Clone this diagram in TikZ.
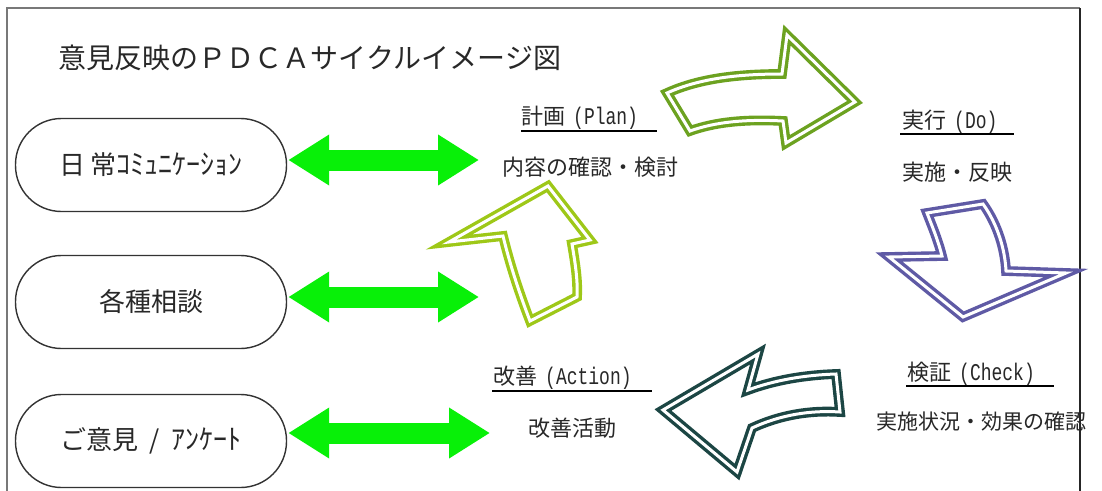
\documentclass[tikz,border=0pt]{standalone}
\usepackage{fontspec}
\setmainfont{Noto Sans CJK JP}
\newfontfamily\mono[FakeStretch=0.75]{Liberation Mono}
\usetikzlibrary{arrows.meta}
\definecolor{bgreen}{RGB}{8,240,8}
\definecolor{olive}{RGB}{108,162,32}
\definecolor{ygreen}{RGB}{158,200,24}
\definecolor{purp}{RGB}{95,90,165}
\definecolor{teal2}{RGB}{28,70,68}
\definecolor{frame}{RGB}{120,120,120}
\definecolor{txt}{RGB}{40,40,40}
\newcommand{\fs}[1]{\fontsize{#1}{#1}\selectfont}
\begin{document}
\begin{tikzpicture}[x=1pt,y=-1pt,
  oval/.style={draw=black!80, line width=1.4pt, rounded corners=46pt, minimum width=271pt, minimum height=93pt, inner sep=0pt, font=\fs{26}, text=txt},
  dbl/.style={draw=bgreen, line width=21pt, {Triangle[length=41pt,width=48pt]}-{Triangle[length=41pt,width=48pt]}},
  cyc/.style={line width=3.4pt, double=white, double distance=3pt, line join=miter, miter limit=10},
  head/.style={anchor=west, inner sep=0pt, font=\fs{22}, text=txt},
  sub/.style={inner sep=0pt, font=\fs{22}, text=txt},
  uline/.style={line width=1.6pt, black}]
\useasboundingbox (0,0) rectangle (1102,490);
\fill[white] (0,0) rectangle (1102,490);
% frame
\draw[frame, line width=2pt] (7,500) -- (7,8) -- (1080,8);
\draw[black!85, line width=2pt] (1080,8) -- (1080,500);
% title
\node[inner sep=0pt, font=\fs{28}, text=txt] (title) at (310,58) {意見反映のＰＤＣＡサイクルイメージ図};
% ovals
\node[oval] (o1) at (151,165) {日\,常{\fs{28}ｺﾐｭﾆｹｰｼｮﾝ}};
\node[oval] (o2) at (151,302) {各種相談};
\node[oval] (o3) at (151,441) {ご意見\ \ /\ \ {\fs{28}ｱﾝｹｰﾄ}};
% targets
\coordinate (p1) at (479,160);
\coordinate (p2) at (479,297);
\coordinate (p3) at (490,433);
\draw[dbl] (o1.east) ++(1,-5) -- (p1);
\draw[dbl] (o2.east) ++(1,-5) -- (p2);
\draw[dbl] (o3.east) ++(1,-8) -- (p3);
% labels
\node[head] (plan) at (521,118) {計画\hspace{8pt}{\mono\fs{24}(Plan)}};
\draw[uline] (521,131) -- (657,131);
\node[sub] (plansub) at (590,167) {内容の確認・検討};
\node[head] (do) at (902,122) {実行\hspace{8pt}{\mono\fs{24}(Do)}};
\draw[uline] (900,134) -- (1014,134);
\node[sub] (dosub) at (957,172) {実施・反映};
\node[head] (check) at (907,374) {検証\hspace{8pt}{\mono\fs{24}(Check)}};
\draw[uline] (906,386) -- (1054,386);
\node[sub, font=\fs{21}] (checksub) at (981,422) {実施状況・効果の確認};
\node[head] (act) at (493,378) {改善\hspace{8pt}{\mono\fs{24}(Action)}};
\draw[uline] (492,391) -- (652,391);
\node[sub] (actsub) at (572,428) {改善活動};
% cycle arrows
% top: right-pointing olive
\draw[cyc, olive] (667,93) .. controls (700,78) and (740,74) .. (782,74)
  -- (787,35) -- (855,102) -- (786,143) -- (783,121)
  .. controls (745,119) and (715,122) .. (690,131) -- cycle;
% right: down-pointing purple
\draw[cyc, purp] (927,213) -- (983,204) .. controls (998,225) and (1005,250) .. (1006,271)
  -- (1066,273) -- (963,317) -- (889,257) -- (942,256)
  .. controls (938,240) and (932,226) .. cycle;
% bottom: left-pointing teal
\draw[cyc, teal2] (836,374) -- (840,412) .. controls (810,410) and (780,415) .. (752,428)
  -- (737,472) -- (663,410) -- (758,354) -- (748,390)
  .. controls (775,380) and (805,375) .. cycle;
% left: up-pointing yellow-green
\draw[cyc, ygreen] (530,321) .. controls (520,295) and (510,265) .. (503,236)
  -- (449,242) -- (548,186) -- (590,240) -- (572,244)
  .. controls (575,262) and (578,280) .. (577,297) -- cycle;
\end{tikzpicture}
\end{document}
